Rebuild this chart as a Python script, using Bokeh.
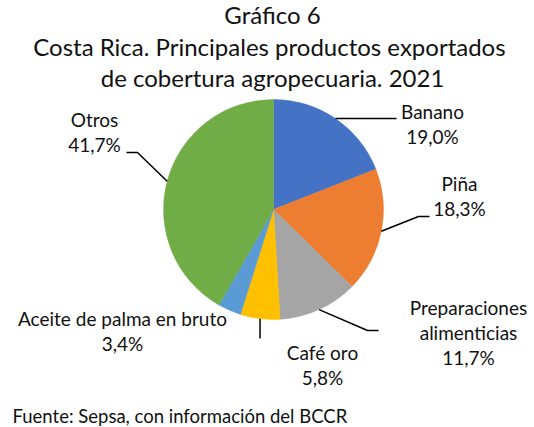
import math
from bokeh.plotting import figure
from bokeh.models import Range1d, ColumnDataSource
from bokeh.core.properties import value
from bokeh.embed import file_html
from bokeh.resources import INLINE

# ---- data ----
categories = ["Banano", "Piña", "Preparaciones alimenticias", "Café oro",
              "Aceite de palma en bruto", "Otros"]
shares = [19.0, 18.3, 11.7, 5.8, 3.4, 41.7]
label_lines = [["Banano", "19,0%"], ["Piña", "18,3%"],
               ["Preparaciones", "alimenticias", "11,7%"], ["Café oro", "5,8%"],
               ["Aceite de palma en bruto", "3,4%"], ["Otros", "41,7%"]]
colors = ["#4472C4", "#ED7D31", "#A5A5A5", "#FFC000", "#5B9BD5", "#70AD47"]
title_lines = ["Gráfico 6", "Costa Rica.  Principales productos exportados",
               "de cobertura agropecuaria. 2021"]
source_note = "Fuente: Sepsa, con información del BCCR"

# ---- layout (pixel-like coordinates, y measured from top) ----
W, H = 534, 427
FONT = "Lato"
cx, cy_top, R = 273, 209, 110
cy = H - cy_top

def Y(t):
    return H - t

p = figure(width=W, height=H, output_backend="svg", toolbar_location=None,
           x_range=Range1d(0, W), y_range=Range1d(0, H), min_border=0)
p.axis.visible = False
p.grid.visible = False
p.outline_line_color = None
p.background_fill_color = "white"

total = sum(shares)
starts, ends, mids = [], [], []
cum = 0.0
for s in shares:
    a_end = math.pi / 2 - 2 * math.pi * cum / total
    a_start = math.pi / 2 - 2 * math.pi * (cum + s) / total
    starts.append(a_start)
    ends.append(a_end)
    mids.append((a_start + a_end) / 2)
    cum += s

src = ColumnDataSource(dict(x=[cx] * len(shares), y=[cy] * len(shares),
                            start=starts, end=ends, color=colors, name=categories))
p.wedge(x="x", y="y", radius=R, radius_units="screen", start_angle="start",
        end_angle="end", fill_color="color", line_color="color", line_width=0.5,
        source=src)

# leader lines: from slice mid-point on rim to elbow, then to end
leader = {
    0: [(396, 118)],
    1: [(418, 216), (429, 216)],
    2: [(367, 330), (378, 330)],
    3: [(None, 338)],
    5: [(137, 152), (126, 152)],
}
for i, pts in leader.items():
    sx = cx + R * math.cos(mids[i])
    sy = cy + R * math.sin(mids[i])
    xs = [sx] + [q[0] if q[0] is not None else sx for q in pts]
    ys = [sy] + [Y(q[1]) for q in pts]
    p.line(xs, ys, line_color="black", line_width=1.5)

# label centers (x, y of first line from top), line spacing
label_pos = {0: (432, 111), 1: (459, 183), 2: (468, 307), 3: (322, 352),
             4: (122, 318), 5: (94, 119)}
LS = 25
for i, lines in enumerate(label_lines):
    x0, y0 = label_pos[i]
    p.text(x=[x0] * len(lines), y=[Y(y0 + k * LS) for k in range(len(lines))],
           text=lines, text_font=value(FONT), text_font_size="19px",
           text_align="center", text_baseline="middle", text_color="#111111")

# title
for k, t in enumerate(title_lines):
    p.text(x=[272], y=[Y(14 + k * 31.5)], text=[t], text_font=value(FONT),
           text_font_size="24px", text_align="center", text_baseline="middle",
           text_color="#111111")

p.text(x=[12], y=[Y(415)], text=[source_note], text_font=value(FONT),
       text_font_size="18.5px", text_align="left", text_baseline="middle",
       text_color="#111111")

open("out.html", "w").write(file_html(p, INLINE))
